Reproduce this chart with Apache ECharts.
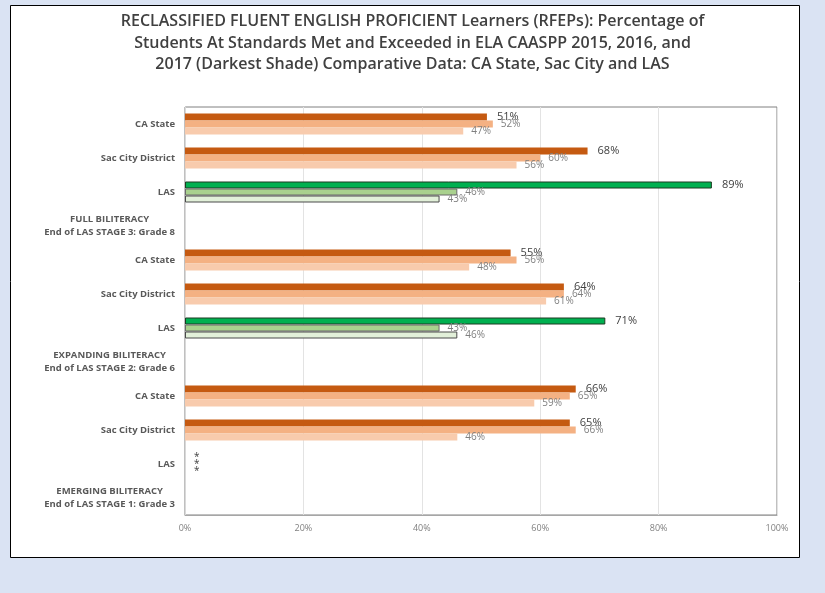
<!DOCTYPE html>
<html>
<head>
<meta charset="utf-8">
<script src="https://cdn.jsdelivr.net/npm/echarts@6/dist/echarts.min.js"></script>
<style>
html,body{margin:0;padding:0;background:#dae3f3;}
#chart{width:825px;height:593px;}
</style>
</head>
<body>
<div id="chart"></div>
<script>
var titleText = 'RECLASSIFIED FLUENT ENGLISH PROFICIENT Learners (RFEPs): Percentage of\nStudents At Standards Met and Exceeded in ELA CAASPP 2015, 2016, and\n2017 (Darkest Shade) Comparative Data: CA State, Sac City and LAS';
var categories = [
  'CA State', 'Sac City District', 'LAS', 'FULL BILITERACY\nEnd of LAS STAGE 3: Grade 8',
  'CA State', 'Sac City District', 'LAS', 'EXPANDING BILITERACY\nEnd of LAS STAGE 2: Grade 6',
  'CA State', 'Sac City District', 'LAS', 'EMERGING BILITERACY\nEnd of LAS STAGE 1: Grade 3'
];
var values2017 = [51, 68, 89, null, 55, 64, 71, null, 66, 65, null, null];
var values2016 = [52, 60, 46, null, 56, 64, 43, null, 65, 66, 0, null];
var values2015 = [47, 56, 43, null, 48, 61, 46, null, 59, 46, null, null];
var xTicks = [0, 20, 40, 60, 80, 100];
var lasIndex = [2, 6];
var noDataIndex = 10;

var orange = {s2017: '#c55a11', s2016: '#f4b183', s2015: '#f8cbad'};
var green = {
  s2017: {color: '#00b050', borderColor: '#1d3b22'},
  s2016: {color: '#a9d18e', borderColor: '#6b6b6b'},
  s2015: {color: '#e2f0d9', borderColor: '#4a4a4a'}
};

function buildData(vals, key) {
  return vals.map(function (v, i) {
    if (v === null) return null;
    var item = {value: v};
    if (lasIndex.indexOf(i) >= 0) {
      item.itemStyle = {color: green[key].color, borderColor: green[key].borderColor, borderWidth: 1};
    }
    if (i === noDataIndex) {
      item.itemStyle = {color: 'transparent'};
      item.label = {show: true, formatter: '*\n*\n*', color: '#404040', fontSize: 10, lineHeight: 7, distance: 9};
    }
    return item;
  });
}

function mkSeries(name, vals, key, main) {
  return {
    name: name,
    type: 'bar',
    data: buildData(vals, key),
    barWidth: 7,
    barGap: '0%',
    itemStyle: {color: orange[key]},
    label: {
      show: true,
      position: 'right',
      distance: main ? 10 : 8,
      formatter: '{c}%',
      color: main ? '#404040' : '#7f7f7f',
      fontSize: main ? 11 : 10,
      fontFamily: 'Open Sans'
    },
    silent: true,
    animation: false
  };
}

var chart = echarts.init(document.getElementById('chart'));
chart.setOption({
  animation: false,
  backgroundColor: '#dae3f3',
  graphic: [{
    type: 'rect',
    shape: {x: 10.5, y: 5.5, width: 789, height: 552},
    style: {fill: '#ffffff', stroke: '#000000', lineWidth: 1},
    z: -10
  }],
  title: {
    text: titleText,
    left: 'center',
    top: 6,
    textStyle: {
      fontFamily: 'Open Sans',
      fontWeight: 600,
      fontSize: 16,
      lineHeight: 21.5,
      color: '#404040'
    }
  },
  grid: {
    left: 185, right: 48, top: 107, bottom: 78,
    show: true, borderColor: '#808080', borderWidth: 1, backgroundColor: 'transparent'
  },
  xAxis: {
    type: 'value',
    min: xTicks[0],
    max: xTicks[xTicks.length - 1],
    interval: xTicks[1] - xTicks[0],
    axisLabel: {formatter: '{value}%', color: '#808080', fontSize: 9, fontFamily: 'Open Sans', margin: 9},
    axisLine: {show: true, lineStyle: {color: '#a6a6a6'}},
    axisTick: {show: false},
    splitLine: {show: true, lineStyle: {color: '#e3e3e3'}}
  },
  yAxis: {
    type: 'category',
    inverse: true,
    data: categories,
    axisLine: {show: true, lineStyle: {color: '#d9d9d9'}},
    axisTick: {show: false},
    axisLabel: {
      color: '#595959', fontSize: 9.5, fontWeight: 'bold', fontFamily: 'Open Sans', margin: 10, lineHeight: 13,
      formatter: function (v) {
        return v.split('\n').map(function (s) { return '{c|' + s + '}'; }).join('\n');
      },
      rich: {
        c: {align: 'center', color: '#595959', fontSize: 9.5, fontWeight: 'bold', fontFamily: 'Open Sans', lineHeight: 13}
      }
    }
  },
  series: [
    mkSeries('2017', values2017, 's2017', true),
    mkSeries('2016', values2016, 's2016', false),
    mkSeries('2015', values2015, 's2015', false)
  ]
});
</script>
</body>
</html>
